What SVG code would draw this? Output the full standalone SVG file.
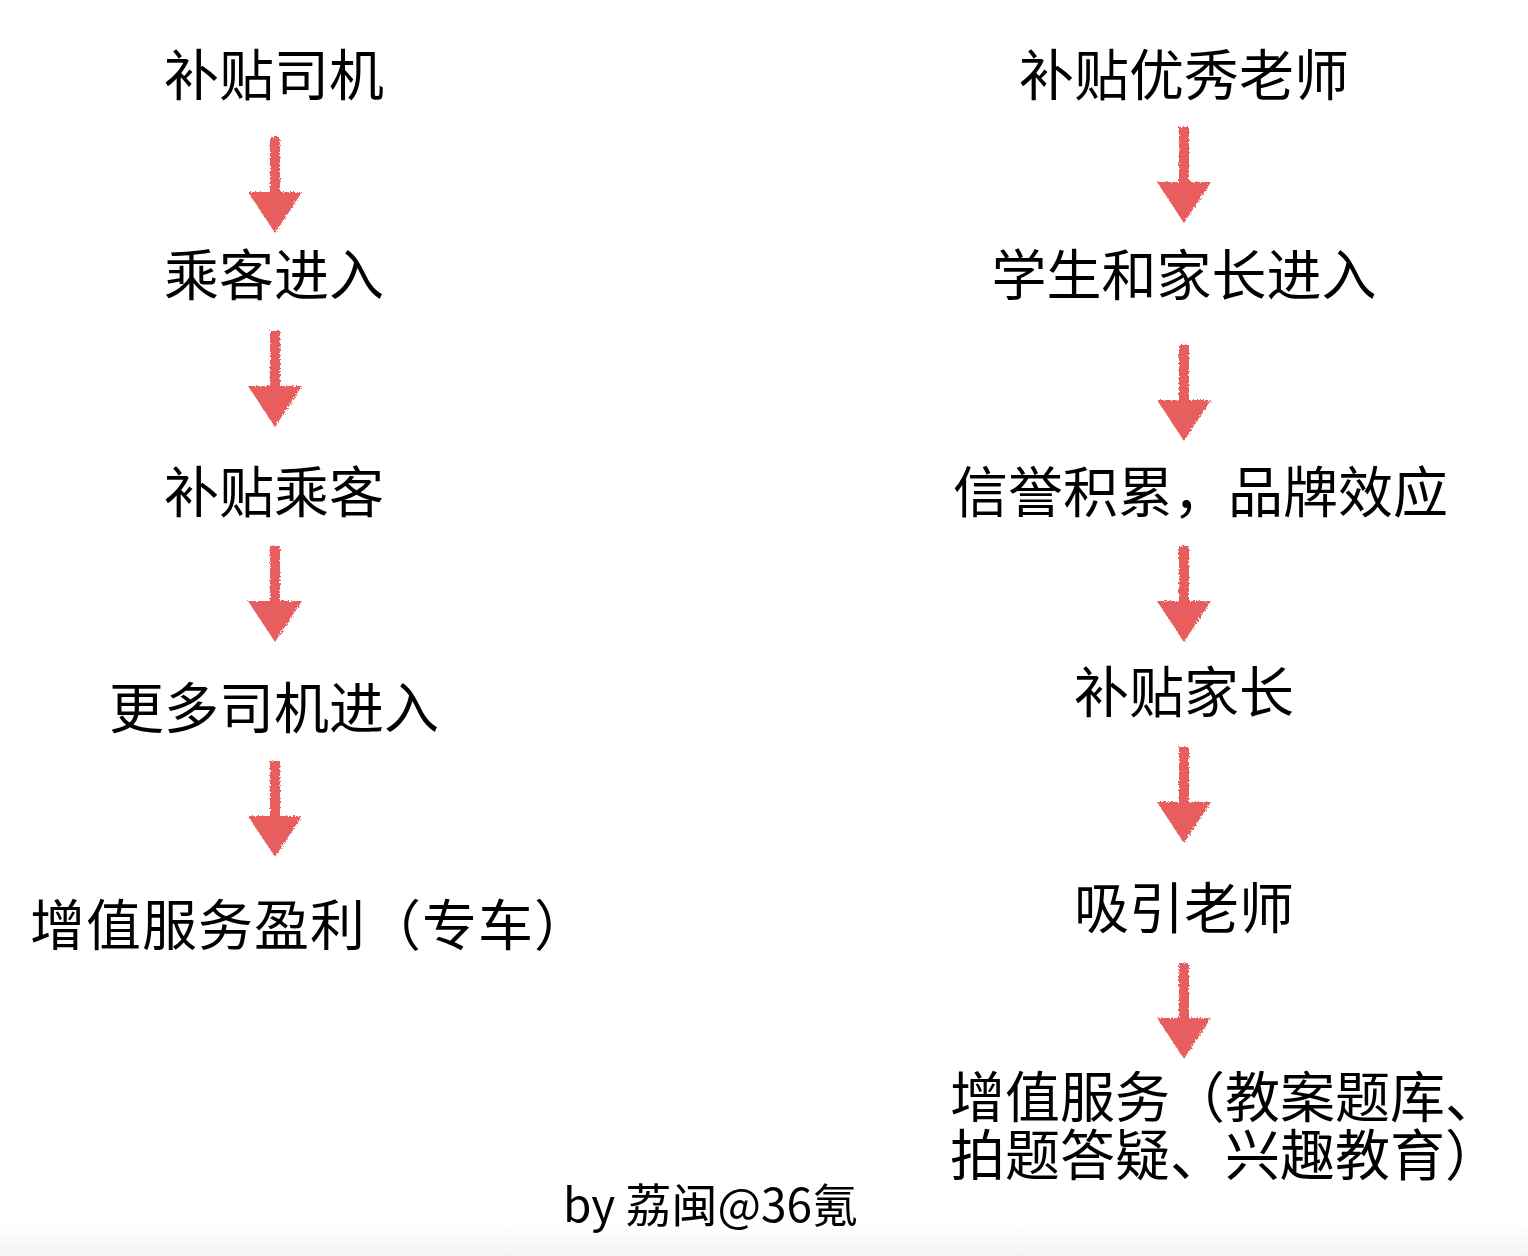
<svg xmlns="http://www.w3.org/2000/svg" width="1528" height="1256" viewBox="0 0 1528 1256">
<defs>
<style>
.t{font-family:"Noto Sans CJK SC","Noto Sans",sans-serif;font-size:55px;fill:#000}
.c{text-anchor:middle}
.by{font-family:"Noto Sans CJK SC","Noto Sans",sans-serif;font-size:46px;fill:#000}
.arr{fill:#E85D5D}
</style>
<linearGradient id="bg" x1="0" y1="0" x2="0" y2="1">
<stop offset="0" stop-color="#ffffff"/>
<stop offset="1" stop-color="#f3f3f3"/>
</linearGradient>
<filter id="rough" x="-20%" y="-20%" width="140%" height="140%">
<feTurbulence type="fractalNoise" baseFrequency="0.6" numOctaves="2" seed="3"/>
<feDisplacementMap in="SourceGraphic" scale="4"/>
</filter>
<path id="a" d="M-5,0 L5,0 L5,55 L27,55 L0,96 L-27,55 L-5,55 Z"/>
</defs>
<rect width="1528" height="1256" fill="#fff"/>
<rect y="1225" width="1528" height="31" fill="url(#bg)"/>
<g id="connectors" class="arr" filter="url(#rough)">
<use href="#a" x="275" y="137"/>
<use href="#a" x="275" y="331"/>
<use href="#a" x="275" y="546"/>
<use href="#a" x="275" y="761"/>
<use href="#a" x="1184" y="127"/>
<use href="#a" x="1184" y="345"/>
<use href="#a" x="1184" y="546"/>
<use href="#a" x="1184" y="747"/>
<use href="#a" x="1184" y="963"/>
</g>
<g id="l1"><text class="t c" x="274" y="95">补贴司机</text></g>
<g id="l2"><text class="t c" x="274" y="295">乘客进入</text></g>
<g id="l3"><text class="t c" x="274" y="512">补贴乘客</text></g>
<g id="l4"><text class="t c" x="274" y="728">更多司机进入</text></g>
<g id="l5"><text class="t" x="30" y="945" letter-spacing="1">增值服务盈利（专车）</text></g>
<g id="r1"><text class="t c" x="1184" y="95">补贴优秀老师</text></g>
<g id="r2"><text class="t c" x="1184" y="295">学生和家长进入</text></g>
<g id="r3"><text class="t" x="953" y="512">信誉积累，品牌效应</text></g>
<g id="r4"><text class="t c" x="1184" y="712">补贴家长</text></g>
<g id="r5"><text class="t c" x="1184" y="928">吸引老师</text></g>
<g id="r6"><text class="t" x="950" y="1117">增值服务（教案题库、</text><text class="t" x="950" y="1175">拍题答疑、兴趣教育）</text></g>
<g id="credit"><text class="by" x="563" y="1222">by 荔闽@36氪</text></g>
</svg>
